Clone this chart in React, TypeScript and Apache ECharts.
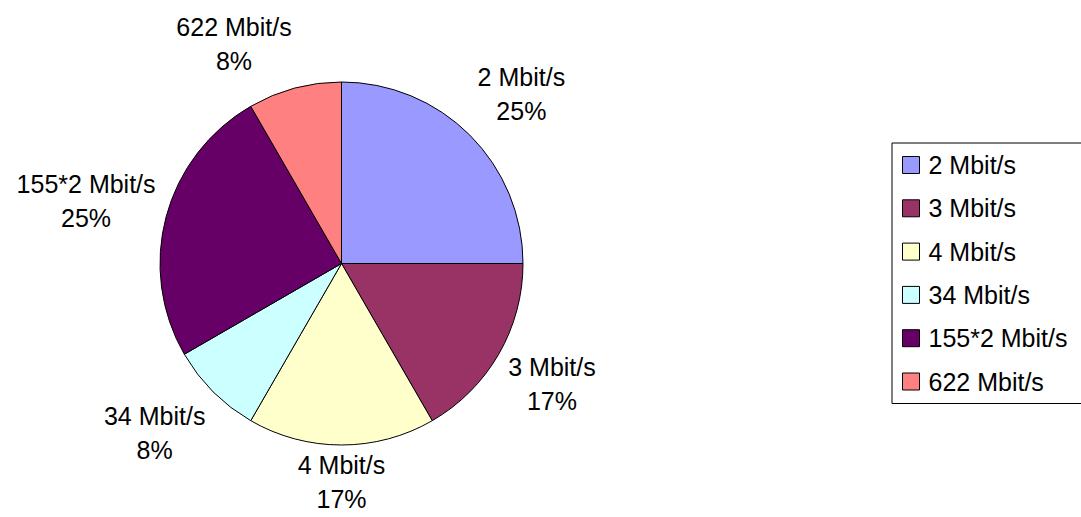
import React, { useEffect, useRef } from 'react';
import * as echarts from 'echarts';

const categories = ['2 Mbit/s', '3 Mbit/s', '4 Mbit/s', '34 Mbit/s', '155*2 Mbit/s', '622 Mbit/s'];
const counts = [3, 2, 2, 1, 3, 1];
const colors = ['#9999FF', '#993366', '#FFFFCC', '#CCFFFF', '#660066', '#FF8080'];

const W = 1081;
const H = 517;
const CX = 341.5;
const CY = 263.5;
const R = 181.5;
const GAP = 11;
const FONT = '"Liberation Sans", Arial, sans-serif';

export default function App() {
  const ref = useRef<HTMLDivElement>(null);
  useEffect(() => {
    document.body.style.margin = '0';
    const chart = echarts.init(ref.current!, null, { renderer: 'svg' });
    const total = counts.reduce((a, b) => a + b, 0);
    const mids: number[] = [];
    let acc = 0;
    counts.forEach((v) => {
      mids.push(((acc + v / 2) / total) * 2 * Math.PI);
      acc += v;
    });
    chart.setOption({
      animation: false,
      backgroundColor: '#ffffff',
      textStyle: { fontFamily: FONT },
      legend: {
        orient: 'vertical',
        left: 892,
        top: 143,
        data: categories,
        icon: 'rect',
        itemWidth: 17,
        itemHeight: 17,
        itemGap: 13.3,
        selectedMode: false,
        itemStyle: { borderColor: '#000', borderWidth: 1 },
        textStyle: { fontSize: 25, color: '#000', fontFamily: FONT, lineHeight: 30, padding: [0, 0, 0, 4] },
        borderColor: '#000',
        borderWidth: 1,
        padding: [7, 60, 7, 10],
      },
      series: [
        {
          type: 'pie',
          center: [CX, CY],
          radius: R,
          startAngle: 90,
          clockwise: true,
          avoidLabelOverlap: false,
          data: categories.map((n, i) => ({ name: n, value: counts[i], itemStyle: { color: colors[i] } })),
          itemStyle: { borderColor: '#000', borderWidth: 1 },
          label: {
            show: true,
            position: 'outside',
            formatter: (p: any) => `${p.name}\n${Math.round(p.percent)}%`,
            fontSize: 25,
            lineHeight: 34,
            color: '#000',
            fontFamily: FONT,
          },
          labelLine: { show: false },
          emphasis: { disabled: true },
          labelLayout: (p: any) => {
            const a = mids[p.dataIndex];
            const dx = Math.sin(a);
            const dy = -Math.cos(a);
            const w = p.labelRect.width;
            const h = p.labelRect.height;
            const ax = CX + dx * (R + GAP);
            const ay = CY + dy * (R + GAP);
            const sx = Math.abs(dx) < 0.05 ? 0 : Math.sign(dx);
            const ky = Math.max(-1, Math.min(1, dy * 1.4));
            let x = ax + (sx * w) / 2;
            let y = ay + (ky * h) / 2;
            y = Math.min(H - h / 2 - 1, Math.max(h / 2 + 1, y));
            x = Math.min(W - w / 2 - 1, Math.max(w / 2 + 1, x));
            return { x, y, align: 'center', verticalAlign: 'middle' };
          },
        },
      ],
    });
    return () => chart.dispose();
  }, []);
  return <div ref={ref} style={{ width: W, height: H }} />;
}
